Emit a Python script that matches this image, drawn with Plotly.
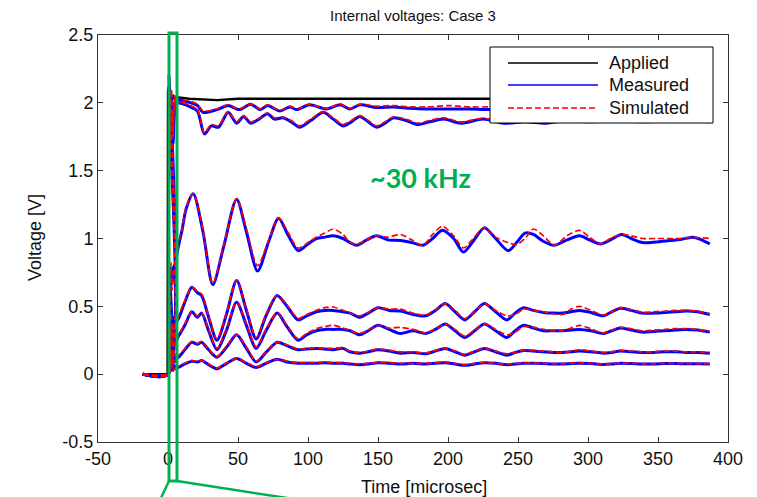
import plotly.graph_objects as go

# ---------------- data ----------------
title_text = "Internal voltages: Case 3"
x_label = "Time [microsec]"
y_label = "Voltage [V]"
x_ticks = [-50, 0, 50, 100, 150, 200, 250, 300, 350, 400]
x_ticktext = ["-50", "0", "50", "100", "150", "200", "250", "300", "350", "400"]
y_ticks = [-0.5, 0, 0.5, 1, 1.5, 2, 2.5]
y_ticktext = ["-0.5", "0", "0.5", "1", "1.5", "2", "2.5"]
legend_names = ["Applied", "Measured", "Simulated"]
note_text = "~30 kHz"

# Applied voltage
t_app = [-18, -0.3, 0, 0.5, 1, 1.5, 2.5, 4, 6, 8, 15, 25, 35, 50, 100, 150, 200, 250, 300, 350, 387]
v_app = [0, 0, 2.08, 2.12, 2.0, 2.07, 2.01, 2.05, 2.03, 2.04, 2.03, 2.025, 2.02, 2.03, 2.03, 2.03,
         2.03, 2.03, 2.03, 2.03, 2.03]

# Upper internal node (~1.96 V)
t_e = [-18, 0, 0.7, 1.5, 2.5, 3.5, 5, 7, 13, 21, 25, 35, 43, 51, 59, 66, 71, 80, 87, 92, 101, 113,
       123, 130, 137, 149, 161, 173, 185, 201, 216, 230, 250, 270, 290, 310, 330, 350, 370, 387]
e_meas = [0, 0, 2.2, 1.7, 2.05, 1.8, 2.0, 2.02, 2.01, 1.98, 1.93, 1.95, 1.98, 1.95, 1.99, 1.95, 1.98,
          1.94, 1.97, 1.95, 1.985, 1.955, 1.985, 1.955, 1.985, 1.965, 1.97, 1.96, 1.955, 1.955, 1.955,
          1.95, 1.96, 1.95, 1.96, 1.95, 1.96, 1.95, 1.96, 1.95]
e_sim = [0, 0, 2.15, 1.65, 2.1, 1.75, 2.05, 2.0, 2.02, 1.99, 1.94, 1.955, 1.985, 1.955, 1.99, 1.955,
         1.985, 1.945, 1.975, 1.955, 1.99, 1.96, 1.99, 1.96, 1.99, 1.975, 1.98, 1.97, 1.97, 1.98, 1.97,
         1.97, 1.975, 1.97, 1.975, 1.97, 1.975, 1.97, 1.975, 1.97]

# Second internal node (~1.87 V)
t_f = [-18, 0, 0.8, 1.6, 2.6, 3.6, 5, 7, 11, 16, 21, 26, 31, 36, 43, 49, 54, 59, 65, 71, 76, 82, 88,
       94, 102, 111, 118, 125, 131, 137, 143, 149, 155, 161, 170, 178, 187, 197, 209, 225, 240, 255,
       270, 285, 300, 320, 340, 360, 387]
f_meas = [0, 0, 1.9, 1.6, 2.0, 1.7, 1.95, 2.0, 1.99, 1.97, 1.94, 1.77, 1.83, 1.82, 1.93, 1.85, 1.90,
          1.85, 1.88, 1.92, 1.88, 1.89, 1.86, 1.82, 1.87, 1.93, 1.88, 1.83, 1.86, 1.90, 1.86, 1.82,
          1.85, 1.89, 1.87, 1.84, 1.86, 1.88, 1.85, 1.88, 1.85, 1.86, 1.85, 1.87, 1.86, 1.87, 1.86,
          1.87, 1.86]
f_sim = [0, 0, 1.85, 1.65, 1.95, 1.75, 2.0, 2.01, 2.0, 1.98, 1.95, 1.78, 1.84, 1.83, 1.935, 1.86,
         1.905, 1.86, 1.885, 1.925, 1.89, 1.895, 1.87, 1.83, 1.88, 1.935, 1.89, 1.84, 1.87, 1.905,
         1.87, 1.83, 1.86, 1.895, 1.88, 1.85, 1.87, 1.89, 1.86, 1.885, 1.86, 1.87, 1.86, 1.875,
         1.87, 1.875, 1.87, 1.875, 1.87]

# ~1 V node
t_g = [-18, 0, 0.6, 1.4, 2.2, 3, 4, 5, 6, 7, 10, 13, 18, 25, 32, 40, 49, 56, 64, 72, 79, 86, 93, 100,
       106, 112, 118, 125, 130, 135, 142, 149, 157, 166, 174, 182, 189, 196, 204, 211, 218, 226, 234,
       243, 249, 255, 261, 268, 276, 285, 294, 301, 309, 316, 324, 331, 339, 349, 359, 367, 375, 381,
       387]
g_meas = [0, 0, 0.8, 0.6, 0.78, 0.68, 0.8, 0.72, 0.85, 0.92, 1.06, 1.22, 1.33, 1.05, 0.66, 0.95,
          1.29, 1.05, 0.76, 0.98, 1.15, 1.02, 0.91, 0.96, 1.0, 1.01, 1.02, 1.0, 0.97, 0.95, 0.99,
          1.02, 0.99, 0.985, 0.97, 0.95, 1.0, 1.06, 1.0, 0.90, 0.98, 1.08, 1.0, 0.91, 0.97, 1.04,
          1.03, 0.98, 0.95, 0.99, 1.02, 0.99, 0.96, 0.99, 1.03, 1.0, 0.97, 0.975, 0.985, 0.995,
          1.01, 0.99, 0.96]
g_sim = [0, 0, 0.75, 0.68, 0.82, 0.62, 0.76, 0.78, 0.82, 0.94, 1.07, 1.23, 1.33, 1.06, 0.67, 0.96,
         1.29, 1.07, 0.80, 0.99, 1.15, 1.04, 0.93, 0.97, 1.01, 1.04, 1.07, 1.03, 0.97, 0.96, 0.99,
         1.02, 1.01, 1.03, 0.99, 0.95, 1.03, 1.09, 1.02, 0.93, 1.0, 1.08, 1.01, 0.97, 0.955, 1.0,
         1.07, 1.02, 0.95, 1.02, 1.06, 1.01, 0.96, 1.0, 1.03, 1.02, 1.0, 1.0, 1.0, 1.0, 1.01, 1.005,
         1.0]

# Lower four nodes share one time grid
t_low = [-18, 0, 0.6, 1.4, 2.2, 3, 4, 5, 6, 7, 12, 17, 21, 24, 29, 35, 42, 49, 56, 63, 70, 78, 85,
         93, 99, 106, 112, 118, 125, 130, 137, 143, 150, 158, 166, 175, 184, 191, 198, 205, 212, 219,
         226, 234, 242, 248, 254, 261, 268, 275, 282, 288, 294, 302, 311, 317, 323, 331, 339, 347,
         355, 363, 370, 378, 387]
a_meas = [0, 0, 0.35, 0.22, 0.38, 0.3, 0.42, 0.33, 0.4, 0.40, 0.53, 0.64, 0.60, 0.58, 0.42, 0.25,
          0.45, 0.69, 0.47, 0.26, 0.43, 0.58, 0.50, 0.40, 0.43, 0.46, 0.47, 0.47, 0.46, 0.45, 0.42,
          0.45, 0.49, 0.47, 0.465, 0.44, 0.43, 0.47, 0.52, 0.46, 0.40, 0.46, 0.52, 0.46, 0.40, 0.45,
          0.49, 0.47, 0.455, 0.45, 0.45, 0.46, 0.47, 0.455, 0.43, 0.46, 0.485, 0.47, 0.45, 0.45,
          0.455, 0.46, 0.465, 0.46, 0.44]
a_sim = [0, 0, 0.4, 0.18, 0.33, 0.36, 0.28, 0.38, 0.35, 0.41, 0.54, 0.64, 0.61, 0.59, 0.43, 0.26,
         0.46, 0.69, 0.48, 0.27, 0.44, 0.58, 0.51, 0.41, 0.44, 0.47, 0.49, 0.495, 0.47, 0.45, 0.43,
         0.455, 0.49, 0.48, 0.48, 0.45, 0.435, 0.475, 0.52, 0.47, 0.41, 0.46, 0.52, 0.47, 0.43,
         0.44, 0.48, 0.47, 0.46, 0.445, 0.44, 0.48, 0.50, 0.47, 0.435, 0.46, 0.49, 0.475, 0.455,
         0.46, 0.465, 0.47, 0.47, 0.465, 0.445]
b_meas = [0, 0, 0.25, 0.35, 0.2, 0.3, 0.22, 0.32, 0.25, 0.27, 0.36, 0.46, 0.42, 0.45, 0.32, 0.18,
          0.33, 0.53, 0.36, 0.19, 0.32, 0.45, 0.35, 0.25, 0.29, 0.32, 0.33, 0.33, 0.33, 0.32, 0.29,
          0.32, 0.36, 0.33, 0.30, 0.32, 0.30, 0.33, 0.37, 0.32, 0.27, 0.32, 0.37, 0.32, 0.27, 0.32,
          0.36, 0.34, 0.32, 0.32, 0.32, 0.325, 0.33, 0.32, 0.30, 0.32, 0.34, 0.325, 0.31, 0.315,
          0.32, 0.325, 0.33, 0.325, 0.31]
b_sim = [0, 0, 0.3, 0.2, 0.33, 0.24, 0.3, 0.26, 0.29, 0.28, 0.37, 0.46, 0.43, 0.45, 0.33, 0.19,
         0.34, 0.53, 0.37, 0.20, 0.33, 0.45, 0.36, 0.26, 0.30, 0.335, 0.35, 0.36, 0.34, 0.32, 0.30,
         0.325, 0.36, 0.34, 0.345, 0.33, 0.305, 0.335, 0.37, 0.33, 0.28, 0.325, 0.37, 0.33, 0.29,
         0.31, 0.35, 0.345, 0.33, 0.32, 0.32, 0.34, 0.36, 0.335, 0.305, 0.325, 0.345, 0.335,
         0.32, 0.325, 0.33, 0.335, 0.335, 0.33, 0.315]
c_meas = [0, 0, 0.15, 0.08, 0.18, 0.1, 0.16, 0.09, 0.14, 0.12, 0.18, 0.235, 0.22, 0.235, 0.18,
          0.125, 0.2, 0.29, 0.19, 0.09, 0.16, 0.235, 0.21, 0.18, 0.185, 0.19, 0.185, 0.18, 0.19,
          0.165, 0.155, 0.165, 0.18, 0.17, 0.155, 0.16, 0.15, 0.17, 0.19, 0.165, 0.14, 0.165, 0.19,
          0.165, 0.14, 0.16, 0.175, 0.17, 0.165, 0.16, 0.16, 0.165, 0.17, 0.165, 0.155, 0.16, 0.17,
          0.165, 0.16, 0.16, 0.165, 0.165, 0.16, 0.16, 0.155]
c_sim = [0, 0, 0.1, 0.19, 0.11, 0.17, 0.08, 0.15, 0.11, 0.13, 0.185, 0.24, 0.225, 0.24, 0.185, 0.13,
         0.21, 0.29, 0.2, 0.095, 0.165, 0.235, 0.215, 0.185, 0.19, 0.195, 0.19, 0.19, 0.195, 0.17,
         0.16, 0.17, 0.185, 0.175, 0.165, 0.165, 0.155, 0.175, 0.19, 0.17, 0.145, 0.17, 0.19, 0.17,
         0.15, 0.16, 0.175, 0.175, 0.17, 0.165, 0.16, 0.17, 0.18, 0.17, 0.16, 0.165, 0.175, 0.17,
         0.165, 0.165, 0.17, 0.17, 0.165, 0.165, 0.16]
d_meas = [0, 0, 0.06, 0.02, 0.08, 0.03, 0.07, 0.04, 0.06, 0.05, 0.075, 0.095, 0.09, 0.10, 0.07,
          0.04, 0.08, 0.115, 0.08, 0.05, 0.08, 0.11, 0.09, 0.08, 0.08, 0.08, 0.085, 0.08, 0.08,
          0.075, 0.07, 0.075, 0.085, 0.08, 0.075, 0.08, 0.075, 0.08, 0.085, 0.075, 0.065, 0.075,
          0.085, 0.08, 0.07, 0.075, 0.08, 0.08, 0.078, 0.075, 0.075, 0.078, 0.08, 0.078, 0.072,
          0.075, 0.08, 0.078, 0.075, 0.075, 0.078, 0.078, 0.077, 0.076, 0.075]
d_sim = [0, 0, 0.03, 0.09, 0.04, 0.07, 0.02, 0.06, 0.04, 0.055, 0.08, 0.1, 0.095, 0.1, 0.075, 0.045,
         0.085, 0.115, 0.085, 0.055, 0.085, 0.11, 0.095, 0.085, 0.085, 0.085, 0.09, 0.085, 0.085,
         0.08, 0.075, 0.08, 0.085, 0.085, 0.08, 0.08, 0.08, 0.085, 0.09, 0.08, 0.07, 0.08, 0.085,
         0.08, 0.075, 0.078, 0.082, 0.083, 0.08, 0.078, 0.078, 0.082, 0.085, 0.08, 0.075, 0.078,
         0.082, 0.08, 0.078, 0.078, 0.08, 0.08, 0.079, 0.078, 0.077]

measured = [(t_e, e_meas), (t_f, f_meas), (t_g, g_meas), (t_low, a_meas), (t_low, b_meas),
            (t_low, c_meas), (t_low, d_meas)]
simulated = [(t_e, e_sim), (t_f, f_sim), (t_g, g_sim), (t_low, a_sim), (t_low, b_sim),
             (t_low, c_sim), (t_low, d_sim)]

# ---------------- figure ----------------
W, H = 757, 497
L, R, T, B = 98, 728, 35, 442
GREEN = "#00B050"
FONT = "Arial, Liberation Sans, sans-serif"


def px(xp):
    return (xp - L) / (R - L)


def py(yp):
    return (B - yp) / (B - T)


fig = go.Figure()

fig.add_trace(go.Scatter(x=t_app, y=v_app, mode="lines", name=legend_names[0],
                         line=dict(color="black", width=2.4), showlegend=False))
for t, v in measured:
    fig.add_trace(go.Scatter(x=t, y=v, mode="lines", name=legend_names[1],
                             line=dict(color="#0000FF", width=3, shape="spline", smoothing=0.8),
                             showlegend=False))
for t, v in simulated:
    fig.add_trace(go.Scatter(x=t, y=v, mode="lines", name=legend_names[2],
                             line=dict(color="#FF0000", width=1.7, dash="6px,3px",
                                       shape="spline", smoothing=0.8),
                             showlegend=False))

shapes = []
annotations = []

# legend box (manual, to match long line samples)
shapes.append(dict(type="rect", xref="paper", yref="paper", x0=px(490), x1=px(713),
                   y0=py(123), y1=py(47), line=dict(color="black", width=1),
                   fillcolor="white", layer="above"))
leg_y = [63, 85, 108]
leg_style = [dict(color="black", width=1.3), dict(color="#0000FF", width=1.3),
             dict(color="#FF0000", width=1.3, dash="6px,3px")]
for name, yy, st in zip(legend_names, leg_y, leg_style):
    shapes.append(dict(type="line", xref="paper", yref="paper", x0=px(508), x1=px(598),
                       y0=py(yy), y1=py(yy), line=st, layer="above"))
    annotations.append(dict(text=name, xref="paper", yref="paper", x=px(607), y=py(yy),
                            xanchor="left", yanchor="middle", showarrow=False,
                            font=dict(family=FONT, size=18, color="#111")))

# green highlight rectangle and zoom lines
shapes.append(dict(type="rect", xref="paper", yref="paper", x0=px(169), x1=px(177),
                   y0=py(481), y1=py(33), line=dict(color=GREEN, width=3), layer="above"))
shapes.append(dict(type="line", xref="paper", yref="paper", x0=px(169), y0=py(481),
                   x1=px(160), y1=py(500), line=dict(color=GREEN, width=2.5), layer="above"))
shapes.append(dict(type="line", xref="paper", yref="paper", x0=px(177), y0=py(481),
                   x1=px(300), y1=py(500), line=dict(color=GREEN, width=2.5), layer="above"))

annotations.append(dict(text="<b>" + note_text + "</b>", xref="paper", yref="paper",
                        x=px(420), y=py(178), xanchor="center", yanchor="middle",
                        showarrow=False, font=dict(family="Lato, Open Sans", size=27, color=GREEN)))

annotations.append(dict(text=x_label, xref="paper", yref="paper", x=px(424), y=py(487),
                        xanchor="center", yanchor="middle", showarrow=False,
                        font=dict(family=FONT, size=18, color="#111")))
annotations.append(dict(text=y_label, xref="paper", yref="paper", x=px(35), y=py(238),
                        xanchor="center", yanchor="middle", showarrow=False, textangle=-90,
                        font=dict(family=FONT, size=18, color="#111")))
annotations.append(dict(text=title_text, xref="paper", yref="paper", x=px(413), y=py(15),
                        xanchor="center", yanchor="middle", showarrow=False,
                        font=dict(family=FONT, size=15, color="#111")))

axis_common = dict(showgrid=False, zeroline=False, showline=True, linecolor="#333", linewidth=1,
                   mirror="ticks", ticks="inside", ticklen=5, tickcolor="#333",
                   tickfont=dict(family=FONT, size=18, color="#111"))

fig.update_layout(
    width=W, height=H,
    margin=dict(l=L, r=W - R, t=T, b=H - B, autoexpand=False),
    paper_bgcolor="white", plot_bgcolor="white",
    xaxis=dict(range=[-50, 400], tickvals=x_ticks, ticktext=x_ticktext, **axis_common),
    yaxis=dict(range=[-0.5, 2.5], tickvals=y_ticks, ticktext=y_ticktext, **axis_common),
    shapes=shapes, annotations=annotations, showlegend=False,
)

fig.write_html("out.html")
